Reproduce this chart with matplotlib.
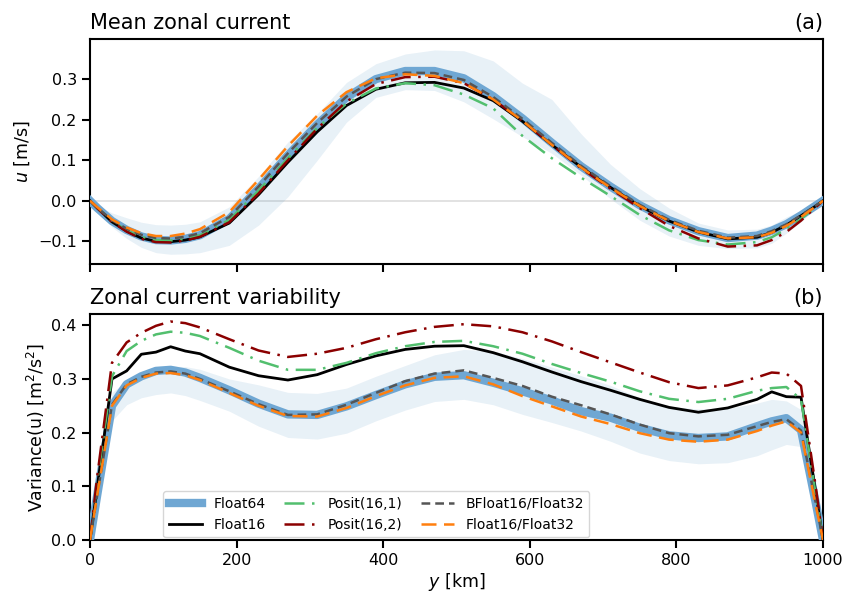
import numpy as np
import matplotlib
matplotlib.use("Agg")
import matplotlib.pyplot as plt

# grid [km]
y_km = [0, 10, 30, 50, 70, 90, 110, 130, 150, 190, 230, 270, 310, 350, 390, 430, 470,
        510, 550, 590, 630, 670, 710, 750, 790, 830, 870, 910, 930, 950, 970, 990, 1000]

labels = ["Float64", "Float16", "Posit(16,1)", "Posit(16,2)", "BFloat16/Float32", "Float16/Float32"]

# ---- (a) mean zonal current [m/s]
u_f64 = [0, -0.018, -0.050, -0.072, -0.088, -0.097, -0.098, -0.094, -0.085, -0.045, 0.030, 0.112,
         0.188, 0.255, 0.300, 0.320, 0.320, 0.302, 0.258, 0.203, 0.143, 0.085, 0.035, -0.011,
         -0.048, -0.075, -0.092, -0.086, -0.074, -0.058, -0.036, -0.012, 0]
u_f16 = [0, -0.018, -0.052, -0.075, -0.092, -0.100, -0.101, -0.097, -0.089, -0.055, 0.015, 0.095,
         0.170, 0.235, 0.275, 0.291, 0.292, 0.278, 0.247, 0.196, 0.138, 0.083, 0.033, -0.013,
         -0.050, -0.077, -0.094, -0.090, -0.078, -0.060, -0.037, -0.013, 0]
u_p161 = [0, -0.018, -0.050, -0.073, -0.089, -0.097, -0.098, -0.094, -0.085, -0.047, 0.025, 0.105,
          0.180, 0.240, 0.277, 0.290, 0.285, 0.262, 0.228, 0.160, 0.105, 0.057, 0.012, -0.035,
          -0.073, -0.097, -0.108, -0.102, -0.090, -0.070, -0.045, -0.015, 0]
u_p162 = [0, -0.018, -0.052, -0.076, -0.094, -0.102, -0.103, -0.098, -0.089, -0.053, 0.018, 0.100,
          0.178, 0.245, 0.288, 0.305, 0.306, 0.290, 0.250, 0.197, 0.138, 0.080, 0.030, -0.018,
          -0.062, -0.093, -0.113, -0.110, -0.097, -0.077, -0.049, -0.016, 0]
u_bf16 = [0, -0.017, -0.048, -0.069, -0.084, -0.092, -0.093, -0.089, -0.080, -0.040, 0.035, 0.117,
          0.192, 0.257, 0.300, 0.316, 0.315, 0.298, 0.256, 0.202, 0.143, 0.086, 0.036, -0.010,
          -0.047, -0.074, -0.091, -0.087, -0.075, -0.058, -0.036, -0.012, 0]
u_f1632 = [0, -0.016, -0.046, -0.066, -0.080, -0.087, -0.087, -0.081, -0.070, -0.028, 0.052, 0.135,
           0.210, 0.268, 0.302, 0.312, 0.308, 0.290, 0.250, 0.197, 0.138, 0.082, 0.032, -0.013,
           -0.050, -0.077, -0.093, -0.090, -0.079, -0.062, -0.040, -0.014, 0]
u_band_hi = [0, -0.012, -0.030, -0.042, -0.053, -0.059, -0.060, -0.058, -0.052, -0.015, 0.060, 0.145,
             0.215, 0.292, 0.338, 0.362, 0.372, 0.370, 0.345, 0.290, 0.250, 0.165, 0.090, 0.030,
             -0.018, -0.055, -0.072, -0.070, -0.060, -0.040, -0.024, -0.008, 0]
u_band_lo = [0, -0.022, -0.065, -0.093, -0.115, -0.128, -0.132, -0.131, -0.128, -0.110, -0.060, 0.010,
             0.100, 0.194, 0.255, 0.274, 0.272, 0.244, 0.202, 0.158, 0.117, 0.063, 0.005, -0.048,
             -0.087, -0.110, -0.118, -0.116, -0.105, -0.080, -0.052, -0.018, 0]

# ---- (b) zonal current variance [m^2/s^2]
v_f64 = [0, 0.085, 0.250, 0.290, 0.305, 0.315, 0.317, 0.312, 0.302, 0.279, 0.254, 0.234,
         0.233, 0.249, 0.270, 0.290, 0.304, 0.307, 0.293, 0.277, 0.260, 0.240, 0.228, 0.209,
         0.195, 0.190, 0.193, 0.212, 0.221, 0.227, 0.205, 0.070, 0]
v_f16 = [0, 0.100, 0.300, 0.315, 0.346, 0.350, 0.360, 0.352, 0.347, 0.322, 0.306, 0.298,
         0.308, 0.327, 0.343, 0.355, 0.361, 0.362, 0.349, 0.332, 0.313, 0.295, 0.279, 0.262,
         0.247, 0.238, 0.246, 0.262, 0.276, 0.267, 0.266, 0.090, 0]
v_p161 = [0, 0.110, 0.305, 0.352, 0.371, 0.383, 0.388, 0.386, 0.380, 0.358, 0.334, 0.317,
          0.317, 0.330, 0.348, 0.361, 0.369, 0.371, 0.361, 0.347, 0.328, 0.311, 0.295, 0.277,
          0.263, 0.257, 0.263, 0.278, 0.283, 0.285, 0.262, 0.085, 0]
v_p162 = [0, 0.120, 0.330, 0.368, 0.386, 0.399, 0.407, 0.404, 0.396, 0.374, 0.353, 0.341,
          0.347, 0.358, 0.374, 0.387, 0.397, 0.402, 0.398, 0.387, 0.370, 0.350, 0.331, 0.312,
          0.294, 0.283, 0.288, 0.303, 0.312, 0.310, 0.287, 0.100, 0]
v_bf16 = [0, 0.085, 0.252, 0.290, 0.304, 0.312, 0.314, 0.310, 0.300, 0.277, 0.253, 0.233,
          0.234, 0.252, 0.274, 0.296, 0.310, 0.316, 0.302, 0.287, 0.267, 0.251, 0.234, 0.215,
          0.199, 0.193, 0.196, 0.212, 0.220, 0.225, 0.204, 0.070, 0]
v_f1632 = [0, 0.085, 0.250, 0.288, 0.302, 0.310, 0.311, 0.307, 0.298, 0.274, 0.250, 0.231,
           0.230, 0.246, 0.268, 0.288, 0.302, 0.305, 0.290, 0.268, 0.249, 0.230, 0.216, 0.199,
           0.187, 0.183, 0.187, 0.203, 0.213, 0.221, 0.200, 0.065, 0]
v_band_hi = [0, 0.095, 0.275, 0.296, 0.312, 0.321, 0.324, 0.323, 0.318, 0.300, 0.289, 0.275,
             0.273, 0.283, 0.305, 0.325, 0.345, 0.355, 0.352, 0.338, 0.322, 0.306, 0.288, 0.265,
             0.249, 0.244, 0.245, 0.255, 0.262, 0.259, 0.243, 0.080, 0]
v_band_lo = [0, 0.070, 0.222, 0.252, 0.265, 0.271, 0.274, 0.269, 0.260, 0.240, 0.212, 0.191,
             0.188, 0.199, 0.222, 0.242, 0.258, 0.262, 0.252, 0.234, 0.219, 0.203, 0.184, 0.162,
             0.148, 0.142, 0.144, 0.157, 0.168, 0.178, 0.174, 0.060, 0]

plt.rcParams['font.family'] = ['DejaVu Sans']
plt.rcParams['axes.linewidth'] = 1.5

fig = plt.figure(figsize=(8.49, 5.96), dpi=100)
W, H = 849, 596
ax1 = fig.add_axes([90 / W, (H - 264) / H, 733 / W, 225 / H])
ax2 = fig.add_axes([90 / W, (H - 540) / H, 733 / W, 226 / H])

styles = [
    dict(color='#6fa7d3', lw=6, ls='-', zorder=3),
    dict(color='black', lw=2, ls='-', zorder=4),
    dict(color='#52bf6e', lw=1.8, ls=(0, (8, 3, 1, 3)), zorder=4),
    dict(color='#8b0000', lw=1.8, ls=(0, (8, 3, 1, 3)), zorder=4),
    dict(color='#555555', lw=1.8, ls=(0, (3.5, 2)), zorder=5),
    dict(color='#ff7f0e', lw=1.8, ls=(0, (6, 3)), zorder=5),
]

x = np.array(y_km)
ax1.axhline(0, color='#dddddd', lw=1.2, zorder=1)
ax1.fill_between(x, u_band_lo, u_band_hi, color='#1f77b4', alpha=0.1, lw=0, zorder=2)
for vals, st in zip([u_f64, u_f16, u_p161, u_p162, u_bf16, u_f1632], styles):
    ax1.plot(x, vals, **st)

ax2.fill_between(x, v_band_lo, v_band_hi, color='#1f77b4', alpha=0.1, lw=0, zorder=2)
lines = []
for vals, st, lab in zip([v_f64, v_f16, v_p161, v_p162, v_bf16, v_f1632], styles, labels):
    l, = ax2.plot(x, vals, label=lab, **st)
    lines.append(l)

for ax in (ax1, ax2):
    ax.set_xlim(0, 1000)
    ax.set_xticks([0, 200, 400, 600, 800, 1000])
    ax.tick_params(labelsize=11.5, width=1.5, length=6)

ax1.set_xticklabels([])
ax1.set_ylim(-0.156, 0.399)
ax1.set_yticks([-0.1, 0.0, 0.1, 0.2, 0.3])
ax1.set_yticklabels(["\u22120.1", "0.0", "0.1", "0.2", "0.3"])
ax1.set_ylabel("$u$ [m/s]", fontsize=12.5)
ax1.set_title("Mean zonal current", loc='left', fontsize=15, pad=7)
ax1.set_title("(a)", loc='right', fontsize=15, pad=7)

ax2.set_ylim(0, 0.421)
ax2.set_yticks([0.0, 0.1, 0.2, 0.3, 0.4])
ax2.set_ylabel("Variance(u) [m$^2$/s$^2$]", fontsize=12.5)
ax2.set_xlabel("$y$ [km]", fontsize=12.5, labelpad=2)
ax2.set_title("Zonal current variability", loc='left', fontsize=15, pad=7)
ax2.set_title("(b)", loc='right', fontsize=15, pad=7)

ax2.legend(handles=lines, ncol=3, loc='lower left',
           bbox_to_anchor=(0.1, 0.012), borderaxespad=0, fontsize=10,
           handlelength=2.4, columnspacing=1.3, framealpha=0.8)

fig.savefig("out.png", dpi=100)
